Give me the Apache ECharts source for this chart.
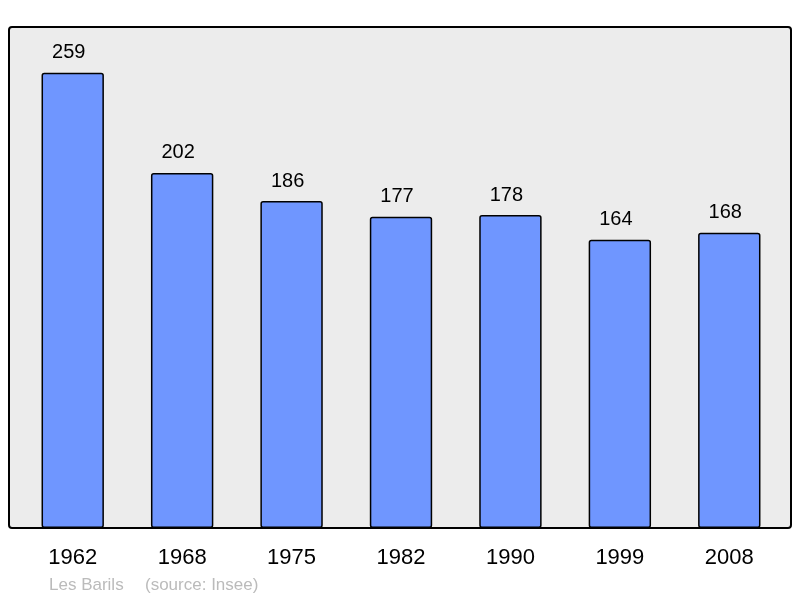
<!DOCTYPE html>
<html>
<head>
<meta charset="utf-8">
<script src="https://cdn.jsdelivr.net/npm/echarts@6/dist/echarts.min.js"></script>
<style>
  html, body { margin: 0; padding: 0; background: #fff; }
  #chart { width: 800px; height: 598px; }
</style>
</head>
<body>
<div id="chart"></div>
<script>
const years = ['1962', '1968', '1975', '1982', '1990', '1999', '2008']
const population = [259, 202, 186, 177, 178, 164, 168]
const commune = 'Les Barils'
const source = '(source: Insee)'

const chart = echarts.init(document.getElementById('chart'), null, { renderer: 'canvas' })

chart.setOption({
  animation: false,
  grid: { left: 18, width: 766, top: 27, height: 501 },
  graphic: [
    {
      type: 'rect',
      z: -10,
      shape: { x: 9, y: 27, width: 782, height: 501, r: 3 },
      style: { fill: '#ececec', stroke: '#000', lineWidth: 2 },
    },
    {
      type: 'text',
      left: 49,
      top: 577,
      style: { text: commune, fill: '#bbbbbb', font: '17px "Liberation Sans", Arial, sans-serif' },
    },
    {
      type: 'text',
      left: 145,
      top: 577,
      style: { text: source, fill: '#bbbbbb', font: '17px "Liberation Sans", Arial, sans-serif' },
    },
  ],
  xAxis: {
    type: 'category',
    data: years,
    axisLine: { show: false },
    axisTick: { show: false },
    axisLabel: {
      margin: 19,
      color: '#000',
      fontSize: 22,
      fontFamily: '"Liberation Sans", Arial, sans-serif',
    },
  },
  yAxis: {
    type: 'value',
    min: 0,
    max: 285,
    show: false,
  },
  series: [
    {
      type: 'bar',
      data: population,
      barWidth: '57%',
      itemStyle: {
        color: '#6f96ff',
        borderColor: '#000',
        borderWidth: 1.5,
        borderRadius: 2,
      },
      label: {
        show: true,
        position: 'top',
        distance: 10,
        offset: [-4, 0],
        color: '#000',
        fontSize: 20,
        fontFamily: '"Liberation Sans", Arial, sans-serif',
      },
    },
  ],
})
</script>
</body>
</html>
